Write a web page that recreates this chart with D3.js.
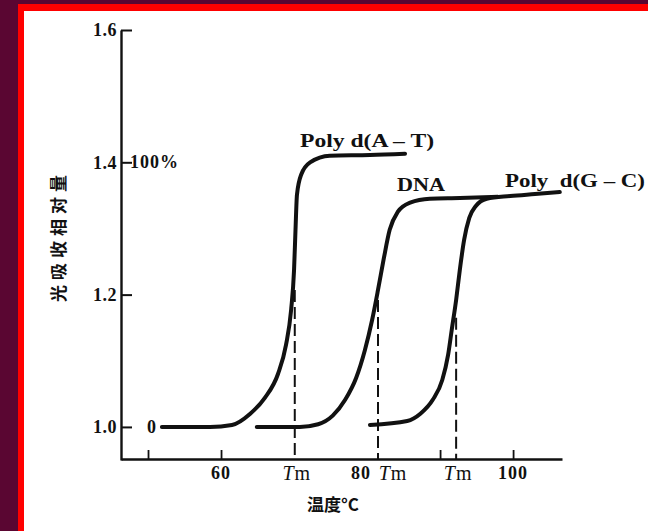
<!DOCTYPE html>
<html>
<head>
<meta charset="utf-8">
<script src="https://cdn.jsdelivr.net/npm/d3@7"></script>
<style>
  html, body { margin: 0; padding: 0; background: #5a0632; }
  svg { display: block; }
  .num { font-family: "Liberation Serif", "DejaVu Serif", serif; font-weight: bold; fill: #111; }
  .cjk { font-family: "Noto Sans CJK SC", sans-serif; font-weight: bold; fill: #111; }
</style>
</head>
<body>
<svg></svg>
<script>
const width = 648;
const height = 531;

// melting curves (temperature in C, relative absorbance)
const atTemp = [51.9, 58.5, 61.5, 64.0, 66.0, 67.8, 68.9, 69.6, 70.0, 70.2, 70.4, 71.0, 72.2, 74.9, 80.4, 85.2];
const atVal  = [1.0, 1.0, 1.003, 1.02, 1.044, 1.08, 1.124, 1.177, 1.237, 1.298, 1.351, 1.382, 1.4, 1.41, 1.411, 1.413];
const dnaTemp = [64.9, 70.8, 73.3, 75.3, 77.0, 78.5, 79.7, 80.7, 81.5, 82.3, 83.1, 84.2, 85.9, 88.6, 92.7, 97.9];
const dnaVal  = [1.0, 1.0, 1.004, 1.017, 1.041, 1.074, 1.116, 1.162, 1.207, 1.255, 1.298, 1.325, 1.339, 1.345, 1.346, 1.348];
const gcTemp = [80.4, 85.5, 87.3, 89.0, 90.3, 91.1, 91.6, 92.2, 92.7, 93.3, 94.0, 94.9, 96.4, 99.6, 103.0, 106.4];
const gcVal  = [1.003, 1.009, 1.02, 1.041, 1.071, 1.109, 1.147, 1.192, 1.237, 1.283, 1.316, 1.334, 1.345, 1.349, 1.352, 1.355];

const seriesNames = ["Poly d(A – T)", "DNA", "Poly  d(G – C)"];
const tmTemps = [70.1, 81.5, 92.2];
const tmTops = [1.207, 1.192, 1.165];

const yTicks = [1.0, 1.2, 1.4, 1.6];
const xTickMarks = [50, 60, 90, 100];
const xTickLabels = [60, 80, 100];
const yNotes = [{ v: 1.4, text: "100%" }, { v: 1.0, text: "0" }];
const xTitle = "温度°C";
const yTitle = "光吸收相对量";

const svg = d3.select('svg')
    .attr('width', width).attr('height', height);

// frame: dark background, red border, white panel
svg.append('rect').attr('x', 0).attr('y', 0).attr('width', width).attr('height', height).attr('fill', '#5a0632');
svg.append('rect').attr('x', 18).attr('y', 4).attr('width', width).attr('height', height).attr('fill', '#ff0000');
svg.append('rect').attr('x', 24).attr('y', 11).attr('width', width).attr('height', height).attr('fill', '#ffffff');

const x = d3.scaleLinear().domain([46.3, 106.7]).range([121, 562]);
const y = d3.scaleLinear().domain([0.95, 1.6]).range([460, 30]);

// y axis, ticks pointing right, labels on the left
const yAxis = svg.append('g')
    .attr('transform', 'translate(121,0)')
    .call(d3.axisLeft(y).tickValues(yTicks).tickFormat(d3.format('.1f'))
        .tickSizeInner(-11).tickSizeOuter(0).tickPadding(4));
yAxis.attr('font-family', null).attr('font-size', null);
yAxis.select('.domain').attr('stroke', '#111').attr('stroke-width', 2.4);
yAxis.selectAll('.tick line').attr('stroke', '#111').attr('stroke-width', 2);
yAxis.selectAll('.tick text').attr('class', 'num').style('font-size', '18px').attr('letter-spacing', 0.5);

// x axis, ticks pointing up
const xAxis = svg.append('g')
    .attr('transform', 'translate(0,459)')
    .call(d3.axisBottom(x).tickValues(xTickMarks).tickFormat('')
        .tickSizeInner(-9).tickSizeOuter(0));
xAxis.select('.domain').attr('stroke', '#111').attr('stroke-width', 2.4);
xAxis.selectAll('.tick line').attr('stroke', '#111').attr('stroke-width', 1.8);

// x tick labels
svg.selectAll('.xlab')
    .data(xTickLabels)
    .enter().append('text')
    .attr('class', 'num')
    .attr('x', d => x(d) + (d === 80 ? -6 : 0))
    .attr('y', 479)
    .attr('text-anchor', 'middle')
    .style('font-size', '18px')
    .attr('letter-spacing', 1)
    .text(d => d);

// Tm labels under the dashed lines
const tmLab = svg.selectAll('.tm')
    .data(tmTemps)
    .enter().append('text')
    .attr('class', 'num')
    .attr('x', (d, i) => x(d) + (i === 1 ? 15 : 2))
    .attr('y', 480)
    .attr('text-anchor', 'middle')
    .style('font-size', '20px')
    .style('font-weight', 'normal')
    .attr('letter-spacing', 1);
tmLab.append('tspan').style('font-style', 'italic').text('T');
tmLab.append('tspan').text('m');

// notes on the y axis
svg.selectAll('.ynote')
    .data(yNotes)
    .enter().append('text')
    .attr('class', 'num')
    .attr('x', d => d.v === 1.4 ? 130 : 147)
    .attr('y', d => y(d.v) + 6)
    .style('font-size', '18px')
    .attr('letter-spacing', 1)
    .text(d => d.text);

// axis titles
svg.append('text')
    .attr('class', 'cjk')
    .attr('x', 333).attr('y', 511)
    .attr('text-anchor', 'middle')
    .style('font-size', '17px')
    .text(xTitle);
svg.append('text')
    .attr('class', 'cjk')
    .attr('transform', 'translate(65,236) rotate(-90)')
    .attr('text-anchor', 'middle')
    .style('font-size', '17px')
    .attr('letter-spacing', 5)
    .text(yTitle);

// dashed Tm lines
svg.selectAll('.tmline')
    .data(tmTemps)
    .enter().append('line')
    .attr('x1', d => x(d)).attr('x2', d => x(d))
    .attr('y1', (d, i) => y(tmTops[i])).attr('y2', 459)
    .attr('stroke', '#111').attr('stroke-width', 2)
    .attr('stroke-dasharray', '12,5');

// curves
const series = [
    { name: seriesNames[0], pts: atTemp.map((t, i) => [t, atVal[i]]) },
    { name: seriesNames[1], pts: dnaTemp.map((t, i) => [t, dnaVal[i]]) },
    { name: seriesNames[2], pts: gcTemp.map((t, i) => [t, gcVal[i]]) }
];
const line = d3.line()
    .x(d => x(d[0])).y(d => y(d[1]))
    .curve(d3.curveMonotoneX);
svg.selectAll('.curve')
    .data(series)
    .enter().append('path')
    .attr('d', d => line(d.pts))
    .attr('fill', 'none')
    .attr('stroke', '#111')
    .attr('stroke-width', 4)
    .attr('stroke-linecap', 'round');

// series labels
const labelPos = [[300, 147, 134], [397, 191, 48], [505, 187, 140]];
svg.selectAll('.slab')
    .data(series)
    .enter().append('text')
    .attr('class', 'num')
    .attr('x', (d, i) => labelPos[i][0])
    .attr('y', (d, i) => labelPos[i][1])
    .attr('textLength', (d, i) => labelPos[i][2])
    .attr('lengthAdjust', 'spacingAndGlyphs')
    .style('font-size', '19px')
    .style('white-space', 'pre')
    .text(d => d.name);
</script>
</body>
</html>
